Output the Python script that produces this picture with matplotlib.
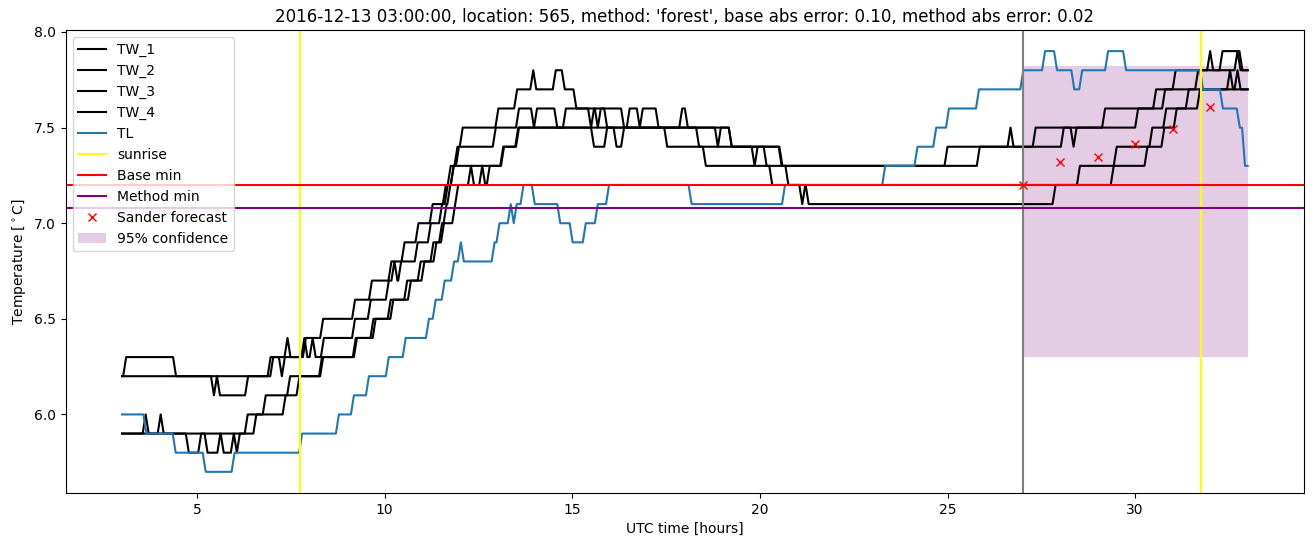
import numpy as np
import matplotlib.pyplot as plt

# temperature records, stored as (hour, new value) change points, start at 03:00
tw1_start = 6.2
tw1_changes = [(3.03, 6.3), (4.36, 6.2), (5.37, 6.1), (5.45, 6.2), (6.88, 6.3), (7.33, 6.4), (7.41, 6.3),
               (7.82, 6.4), (8.28, 6.5), (9.13, 6.6), (9.58, 6.7), (10.1, 6.8), (10.45, 6.9), (10.82, 7.0),
               (11.2, 7.1), (11.55, 7.2), (11.68, 7.3), (11.86, 7.4), (12.0, 7.5), (12.95, 7.6), (13.45, 7.7),
               (13.88, 7.8), (13.96, 7.7), (14.48, 7.8), (14.72, 7.7), (15.03, 7.6), (15.6, 7.5), (15.68, 7.6),
               (16.3, 7.5), (16.45, 7.6), (16.72, 7.5), (16.8, 7.6), (17.22, 7.5), (17.85, 7.6), (18.0, 7.5),
               (19.17, 7.4), (19.78, 7.3), (19.86, 7.4), (20.5, 7.3), (20.68, 7.2), (21.05, 7.1), (21.13, 7.2),
               (21.22, 7.1), (27.8, 7.2), (28.45, 7.3), (30.25, 7.4), (30.7, 7.5), (31.03, 7.6), (31.65, 7.7),
               (32.45, 7.8), (32.53, 7.7)]

tw2_start = 6.2
tw2_changes = [(5.53, 6.1), (6.28, 6.2), (6.95, 6.3), (7.18, 6.2), (7.26, 6.3), (7.78, 6.4), (7.86, 6.3),
               (8.0, 6.4), (8.08, 6.3), (8.3, 6.4), (9.13, 6.5), (9.55, 6.6), (10.03, 6.7), (10.18, 6.8),
               (10.26, 6.7), (10.36, 6.8), (10.8, 6.9), (11.15, 7.0), (11.45, 7.1), (11.6, 7.2), (11.76, 7.3),
               (11.9, 7.4), (12.88, 7.5), (13.5, 7.6), (13.9, 7.5), (13.98, 7.6), (14.52, 7.5), (14.75, 7.6),
               (15.42, 7.5), (15.5, 7.6), (15.85, 7.5), (18.8, 7.4), (18.88, 7.5), (19.17, 7.4), (20.1, 7.3),
               (20.25, 7.2), (29.35, 7.3), (29.43, 7.4), (30.38, 7.5), (30.75, 7.6), (31.35, 7.7), (32.65, 7.8),
               (32.73, 7.7)]

tw3_start = 5.9
tw3_changes = [(3.55, 6.0), (3.63, 5.9), (3.95, 6.0), (4.03, 5.9), (6.27, 6.0), (6.75, 6.1), (7.4, 6.2),
               (8.25, 6.3), (9.15, 6.4), (9.62, 6.5), (10.08, 6.6), (10.52, 6.7), (10.88, 6.8), (11.22, 6.9),
               (11.45, 7.0), (11.57, 7.1), (11.67, 7.2), (11.76, 7.3), (13.08, 7.4), (13.5, 7.5), (18.3, 7.4),
               (18.48, 7.3), (24.92, 7.4), (26.6, 7.5), (26.68, 7.4), (27.27, 7.5), (29.12, 7.6), (30.48, 7.7),
               (31.0, 7.8), (31.92, 7.9), (32.0, 7.8), (32.25, 7.9), (32.78, 7.8)]

tw4_start = 5.9
tw4_changes = [(4.7, 5.8), (5.03, 5.9), (5.2, 5.8), (5.54, 5.9), (5.63, 5.8), (5.9, 5.9), (5.98, 5.8),
               (6.06, 5.9), (6.5, 6.0), (7.28, 6.1), (7.65, 6.2), (8.28, 6.3), (9.18, 6.4), (9.68, 6.5),
               (10.15, 6.6), (10.62, 6.7), (10.98, 6.8), (11.3, 6.9), (11.5, 7.0), (11.8, 7.1), (11.88, 7.2),
               (12.22, 7.3), (12.3, 7.2), (12.52, 7.3), (12.6, 7.2), (12.72, 7.3), (13.1, 7.4), (13.48, 7.5),
               (15.5, 7.4), (15.85, 7.5), (16.1, 7.4), (16.3, 7.5), (17.45, 7.4), (20.52, 7.3), (25.78, 7.4),
               (28.02, 7.5), (28.28, 7.4), (28.36, 7.5), (30.0, 7.6), (30.72, 7.7), (31.6, 7.8), (32.65, 7.9),
               (32.73, 7.8)]

tl_start = 6.0
tl_changes = [(3.57, 5.9), (4.35, 5.8), (5.15, 5.7), (5.92, 5.8), (7.72, 5.9), (8.7, 6.0), (9.1, 6.1),
              (9.5, 6.2), (10.03, 6.3), (10.48, 6.4), (11.1, 6.5), (11.28, 6.6), (11.52, 6.7), (11.77, 6.8),
              (11.95, 6.9), (12.03, 6.8), (12.85, 6.9), (12.98, 7.0), (13.28, 7.1), (13.36, 7.0), (13.44, 7.1),
              (13.62, 7.2), (13.92, 7.1), (14.6, 7.0), (14.93, 6.9), (15.28, 7.0), (15.6, 7.1), (15.9, 7.2),
              (18.1, 7.1), (20.59, 7.2), (23.26, 7.3), (24.12, 7.4), (24.62, 7.5), (24.96, 7.6), (25.76, 7.7),
              (26.94, 7.8), (27.52, 7.9), (27.84, 7.8), (28.3, 7.7), (28.51, 7.8), (29.2, 7.9), (29.68, 7.8),
              (31.73, 7.7), (32.26, 7.6), (32.71, 7.5), (32.85, 7.3)]

t_start, t_end = 3.0, 33.0
sunrise = [7.74, 31.76]
forecast_time = 27.0
base_min = 7.2
method_min = 7.08
sander_hours = [27, 28, 29, 30, 31, 32]
sander_values = [7.2, 7.32, 7.345, 7.415, 7.495, 7.61]
conf_hours = [27, 33]
conf_low = 6.3
conf_high = 7.82


def steps(v0, changes, ramp=0.08):
    t, v = [t_start], [v0]
    for tc, vc in changes:
        t += [tc, tc + ramp]
        v += [v[-1], vc]
    t.append(t_end)
    v.append(v[-1])
    return t, v


fig, ax = plt.subplots(figsize=(13.15, 5.47), dpi=100)
fig.subplots_adjust(left=0.05, right=0.9916, top=0.945, bottom=0.099)

for name, start, ch in [('TW_1', tw1_start, tw1_changes), ('TW_2', tw2_start, tw2_changes),
                        ('TW_3', tw3_start, tw3_changes), ('TW_4', tw4_start, tw4_changes)]:
    t, v = steps(start, ch)
    ax.plot(t, v, color='black', label=name)

t, v = steps(tl_start, tl_changes)
ax.plot(t, v, color='tab:blue', label='TL')

ax.axvline(sunrise[0], color='yellow', label='sunrise')
ax.axvline(sunrise[1], color='yellow')
ax.axvline(forecast_time, color='gray')
ax.axhline(base_min, color='red', label='Base min')
ax.axhline(method_min, color='purple', label='Method min')
ax.plot(sander_hours, sander_values, 'rx', label='Sander forecast')
ax.fill_between(conf_hours, conf_low, conf_high, color='purple', alpha=0.2, linewidth=0,
                label='95% confidence')

ax.set_title("2016-12-13 03:00:00, location: 565, method: 'forest', base abs error: 0.10, method abs error: 0.02")
ax.set_xlabel('UTC time [hours]')
ax.set_ylabel(r'Temperature [$^\circ$C]')
ax.legend(loc='upper left')

fig.savefig('out.png')
